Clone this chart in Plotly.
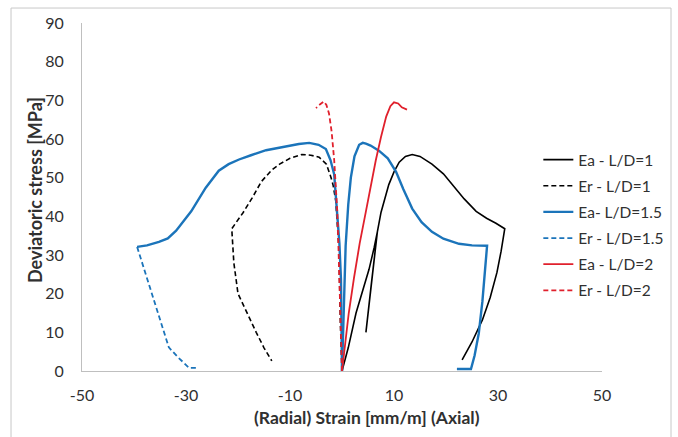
import plotly.graph_objects as go

# Stress-strain curves: axial strain (Ea, positive) and radial strain (Er, negative)
ea_ld1_x = [0, 1.2, 2.7, 4.0, 5.2, 6.2, 6.8, 5.6, 4.6, 5.6, 6.8, 7.5, 8.3, 9.0, 10.0, 11.0,
            12.2, 13.5, 15.0, 17.3, 19.5, 21.2, 23.5, 25.8, 27.8, 29.6, 31.3, 30.6, 29.8,
            28.5, 27.0, 25.0, 23.1]
ea_ld1_y = [0, 6, 15, 21, 26.3, 32, 36, 22, 10, 22, 36, 41, 45, 48.2, 51.5, 54,
            55.5, 56, 55.5, 53.5, 51, 48.2, 44.5, 41.3, 39.5, 38.2, 36.8, 31, 25.5,
            19, 13.2, 7.5, 2.9]

er_ld1_x = [0, -0.3, -0.6, -0.9, -1.2, -1.7, -2.1, -3.0, -4.4, -6.0, -7.7, -10.0, -12.0,
            -13.5, -15.5, -17.3, -19.0, -21.2, -20.8, -20.0, -18.3, -16.5, -15.0, -13.5]
er_ld1_y = [0, 12, 32, 39, 44, 48, 50, 53.5, 55.3, 55.8, 56, 55, 53.5,
            52, 49, 44.7, 41, 36.8, 28, 20, 15, 10, 6, 2.6]

ea_ld15_x = [0, 0.3, 0.7, 1.2, 1.7, 2.4, 3.3, 4.0, 4.6, 5.5, 7.1, 8.8, 10.4, 11.8, 13.5,
             15.3, 17.3, 19.5, 22.5, 25.0, 27.9, 27.5, 27.0, 26.3, 25.5, 24.8, 23.5, 22.1]
ea_ld15_y = [0, 15, 32.4, 43, 50, 55.5, 58.5, 59, 58.8, 58.3, 57, 55, 51.5, 47, 42,
             38.5, 36, 34.2, 32.9, 32.5, 32.4, 26, 18, 9.7, 4, 0.5, 0.5, 0.5]

# Radial strain, L/D=1.5: densely sampled part, then the sparse tail
er_ld15_x = [0, -0.2, -0.5, -0.9, -1.2, -1.5, -2.2, -3.1, -4.5, -6.3, -8.3, -11.0, -14.6,
             -17.5, -19.8, -21.8, -23.7, -26.2, -29.0, -31.9, -33.5, -35.2, -37.5, -39.4]
er_ld15_y = [0, 23.7, 33, 41.2, 46.5, 50.8, 54.5, 57.4, 58.5, 59, 58.7, 58, 57.1,
             55.8, 54.7, 53.5, 51.8, 47.4, 41.3, 36.3, 34.3, 33.4, 32.5, 32.1]
er_ld15_tail_x = [-39.4, -37.5, -35.5, -33.3, -31.5, -29.4, -27.9]
er_ld15_tail_y = [32.1, 24, 15, 6.1, 3.5, 0.8, 0.8]

ea_ld2_x = [0, 0.6, 1.3, 2.3, 3.4, 4.6, 5.5, 6.5, 7.5, 8.5, 9.3, 10.0, 10.8, 11.5, 12.5]
ea_ld2_y = [0, 7, 15, 24, 33, 41.3, 48, 54.5, 60.5, 65.8, 68.5, 69.5, 69.2, 68.2, 67.6]

er_ld2_x = [0, -0.2, -0.4, -0.7, -0.9, -1.2, -1.5, -2.0, -2.5, -3.0, -3.5, -4.2, -5.0]
er_ld2_y = [0, 10, 23.7, 33, 41, 48, 54.5, 62, 66.6, 68.8, 69.7, 69, 68]

x_ticks = [-50, -30, -10, 10, 30, 50]
y_ticks = [0, 10, 20, 30, 40, 50, 60, 70, 80, 90]

BLACK = "#000000"
BLUE = "#1b74ba"
RED = "#e0202c"
DASH = "5px,3px"
FONT = "Lato, 'Open Sans', sans-serif"
TEXT = "#303030"

fig = go.Figure()

fig.add_trace(go.Scatter(x=ea_ld1_x, y=ea_ld1_y, mode="lines", name="Ea - L/D=1",
                         legendgroup="g1", line=dict(color=BLACK, width=1.6)))
fig.add_trace(go.Scatter(x=er_ld1_x, y=er_ld1_y, mode="lines", name="Er - L/D=1",
                         legendgroup="g2", line=dict(color=BLACK, width=1.6, dash=DASH)))
fig.add_trace(go.Scatter(x=ea_ld15_x, y=ea_ld15_y, mode="lines", name="Ea- L/D=1.5",
                         legendgroup="g3", line=dict(color=BLUE, width=2.4)))
fig.add_trace(go.Scatter(x=er_ld15_x, y=er_ld15_y, mode="lines", name="Er - L/D=1.5",
                         legendgroup="g4", showlegend=False,
                         line=dict(color=BLUE, width=2.4)))
fig.add_trace(go.Scatter(x=er_ld15_tail_x, y=er_ld15_tail_y, mode="lines", name="Er - L/D=1.5",
                         legendgroup="g4", line=dict(color=BLUE, width=1.8, dash=DASH)))
fig.add_trace(go.Scatter(x=ea_ld2_x, y=ea_ld2_y, mode="lines", name="Ea - L/D=2",
                         legendgroup="g5", line=dict(color=RED, width=1.8)))
fig.add_trace(go.Scatter(x=er_ld2_x, y=er_ld2_y, mode="lines", name="Er - L/D=2",
                         legendgroup="g6", line=dict(color=RED, width=1.8, dash=DASH)))

fig.update_layout(
    width=678, height=437,
    margin=dict(l=82, r=76, t=23, b=66, autoexpand=False),
    paper_bgcolor="white", plot_bgcolor="white",
    font=dict(family=FONT, size=15, color=TEXT),
    showlegend=True,
    legend=dict(xref="container", yref="container", x=0.794, y=1 - 143 / 437,
                xanchor="left", yanchor="top",
                bgcolor="rgba(0,0,0,0)", font=dict(size=15.5, color=TEXT),
                traceorder="grouped", tracegroupgap=3, itemwidth=30),
    shapes=[dict(type="rect", xref="paper", yref="paper",
                 x0=-0.1365, x1=1.1327, y0=-0.25, y1=1.043,
                 line=dict(color="#c8c8c8", width=1), fillcolor="rgba(0,0,0,0)",
                 layer="below")],
    annotations=[
        dict(text="<b>(Radial) Strain [mm/m] (Axial)</b>", xref="paper", yref="paper",
             x=0.549, y=-0.135, xanchor="center", yanchor="middle", showarrow=False,
             font=dict(size=17.5, color=TEXT)),
        dict(text="<b>Deviatoric stress [MPa]</b>", xref="paper", yref="paper",
             x=-0.0904, y=0.52, xanchor="center", yanchor="middle", showarrow=False,
             textangle=-90, font=dict(size=18, color=TEXT)),
    ],
)

fig.update_xaxes(
    range=[-50, 50], tickvals=x_ticks, ticktext=[str(v) for v in x_ticks],
    showgrid=False, zeroline=False, showline=True, linecolor="#bfbfbf", linewidth=1,
    ticks="outside", ticklen=10, tickcolor="rgba(0,0,0,0)",
    tickfont=dict(size=16, color=TEXT),
)
fig.update_yaxes(
    range=[0, 90], tickvals=y_ticks, ticktext=[str(v) for v in y_ticks],
    showgrid=False, zeroline=False, showline=True, linecolor="#bfbfbf", linewidth=1,
    ticks="outside", ticklen=14, tickcolor="rgba(0,0,0,0)",
    tickfont=dict(size=16, color=TEXT),
)

fig.write_html("out.html")
